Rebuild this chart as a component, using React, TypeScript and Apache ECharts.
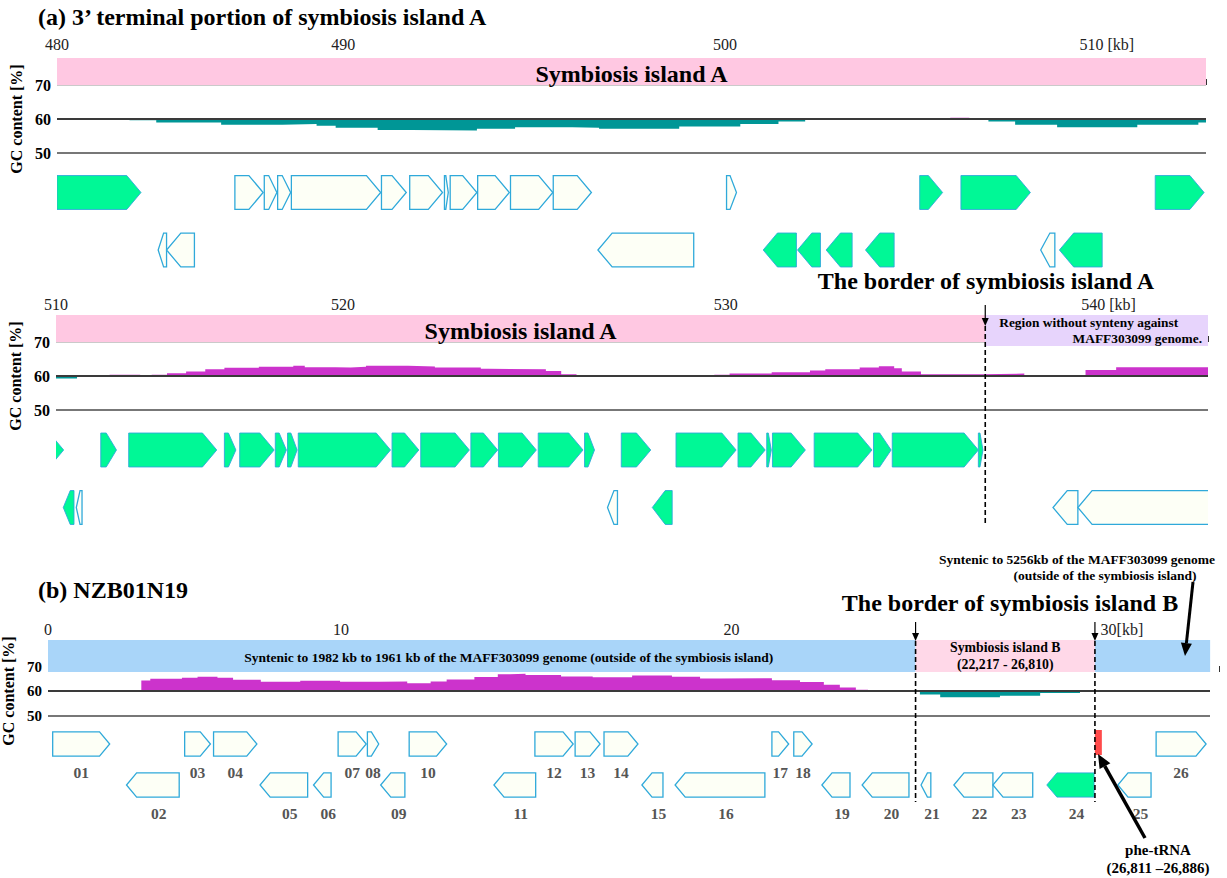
import { useEffect, useRef } from 'react';
import * as echarts from 'echarts';

const SERIF = '"Liberation Serif", "Times New Roman", Times, serif';
const W = 1227;

// ---------------- Panel (a), upper row: 480–510 kb ----------------
const ticksA1 = [480, 490, 500, 510];
const tickLabelsA1 = ['480', '490', '500', '510 [kb]'];
const gcKbA1 = [480, 480.1, 480.6, 481.2, 481.7, 481.9, 482.6, 484.3, 485.9, 486.8, 487.3, 488.4, 489.3, 491.0, 492.0, 493.5, 494.2, 496.3, 497.9, 498.9, 499.6, 500.7, 500.9, 501.7, 502.8, 503.4, 503.9, 504.4, 505.1, 506.2, 508.3, 509.9, 510.1];
const gcValA1 = [60, 60.2, 60, 60.2, 60, 59.6, 59.0, 58.3, 58.5, 58.0, 57.4, 56.8, 56.6, 57.1, 57.6, 57.4, 57.1, 57.8, 58.5, 59.3, 60, 60.2, 60, 60.3, 60, 60.4, 60, 59.3, 58.3, 57.6, 58.3, 59.0, 59.0];
// [start kb, end kb, conserved (1 = green)]
const genesFwdA1: [number, number, number][] = [
  [480.0, 482.2, 1], [484.66, 485.4, 0], [485.43, 485.76, 0], [485.78, 486.12, 0], [486.14, 488.48, 0],
  [488.5, 489.15, 0], [489.24, 490.1, 0], [490.15, 490.25, 0], [490.3, 491.0, 0], [491.02, 491.85, 0],
  [491.88, 492.99, 0], [493.0, 494.0, 0], [497.54, 497.8, 0], [502.6, 503.2, 1], [503.68, 505.5, 1], [508.77, 510.05, 1],
];
const genesRevA1: [number, number, number][] = [
  [482.65, 482.87, 0], [482.87, 483.6, 0], [494.17, 496.68, 0], [498.5, 499.37, 1], [499.4, 500.0, 1],
  [500.15, 500.83, 1], [501.18, 501.93, 1], [505.77, 506.14, 0], [506.26, 507.38, 1],
];
const regionsA1: [number, number, string][] = [[480, 510.1, 'islandA']];
const regionLabelsA1 = ['Symbiosis island A'];

// ---------------- Panel (a), lower row: 510–540 kb ----------------
const ticksA2 = [510, 520, 530, 540];
const tickLabelsA2 = ['510', '520', '530', '540 [kb]'];
const gcKbA2 = [510, 510.55, 511.4, 512.2, 512.5, 512.9, 513.4, 513.9, 514.4, 515.3, 516.2, 516.5, 517.3, 517.7, 518.1, 519.2, 519.9, 521.1, 521.3, 522.8, 523.2, 523.6, 525.35, 526.3, 527.2, 527.6, 528.7, 529.7, 530.1, 531.0, 531.5, 531.9, 532.1, 532.6, 534.2, 535.3, 536.9, 537.7, 540.1];
const gcValA2 = [59.3, 60, 60.4, 60, 60.4, 60.8, 61.3, 62.0, 62.4, 62.7, 63.0, 62.6, 62.5, 62.7, 63.0, 62.8, 62.5, 62.1, 62.0, 61.5, 60.5, 60, 59.7, 60, 60.4, 60.7, 61.1, 61.6, 62.0, 62.5, 62.9, 62.3, 61.3, 60.5, 60.7, 60, 61.8, 62.6, 62.6];
const genesFwdA2: [number, number, number][] = [
  [509.6, 510.2, 1], [511.17, 511.58, 1], [511.9, 514.2, 1], [514.4, 514.7, 1], [514.8, 515.7, 1],
  [515.73, 516.02, 1], [516.05, 516.3, 1], [516.33, 518.74, 1], [518.78, 519.48, 1], [519.53, 520.8, 1],
  [520.84, 521.54, 1], [521.56, 522.55, 1], [522.6, 523.77, 1], [523.81, 524.07, 1], [524.77, 525.54, 1],
  [526.2, 527.77, 1], [527.82, 528.53, 1], [528.57, 528.69, 1], [528.72, 529.58, 1], [529.81, 531.32, 1],
  [531.36, 531.82, 1], [531.85, 534.1, 1], [534.1, 534.22, 1],
];
const genesRevA2: [number, number, number][] = [
  [510.19, 510.47, 1], [510.53, 510.68, 0], [524.41, 524.67, 0], [525.58, 526.1, 1], [536.05, 536.7, 0], [536.7, 541.0, 0],
];
const bordersA2 = [534.28];
const regionsA2: [number, number, string][] = [[510, 534.28, 'islandA'], [534.28, 540.1, 'nosyn']];
const regionLabelsA2 = ['Symbiosis island A', 'Region without synteny against\nMAFF303099 genome.'];

// ---------------- Panel (b): NZB01N19, 0–30 kb ----------------
const ticksB = [0, 10, 20, 30];
const tickLabelsB = ['0', '10', '20', '30[kb]'];
const gcKbB = [0, 2.39, 2.62, 3.43, 3.83, 4.34, 4.74, 5.45, 6.46, 7.48, 8.49, 9.2, 9.8, 10.21, 10.92, 11.52, 11.83, 12.23, 13.14, 13.95, 14.96, 15.98, 16.7, 17.21, 18.54, 19.26, 19.87, 20.28, 20.69, 21.0, 22.03, 22.33, 22.85, 24.38, 25.41, 26.43, 27.05, 27.56, 27.66, 29.76];
const gcValB = [60, 64.3, 65.0, 65.4, 65.8, 65.4, 64.6, 63.8, 64.2, 63.8, 63.9, 63.2, 63.9, 64.7, 65.7, 66.8, 67.0, 66.5, 65.9, 65.6, 66.3, 65.8, 65.1, 65.2, 64.4, 63.7, 62.6, 61.4, 60.5, 60, 59.6, 58.6, 57.5, 58.1, 59.2, 59.6, 60, 60.3, 60, 60];
const genesFwdB: [number, number, number][] = [
  [0.12, 1.58, 0], [3.5, 4.16, 0], [4.24, 5.35, 0], [7.43, 8.15, 0], [8.18, 8.47, 0], [9.25, 10.21, 0],
  [12.47, 13.45, 0], [13.5, 14.14, 0], [14.24, 15.11, 0], [18.54, 18.97, 0], [19.1, 19.57, 0], [28.38, 29.66, 0],
];
const geneNamesFwdB = ['01', '03', '04', '07', '08', '10', '12', '13', '14', '17', '18', '26'];
const genesRevB: [number, number, number][] = [
  [2.01, 3.36, 0], [5.43, 6.65, 0], [6.8, 7.25, 0], [8.52, 9.14, 0], [11.42, 12.49, 0], [15.21, 15.75, 0],
  [16.06, 18.36, 0], [19.82, 20.54, 0], [20.85, 22.05, 0], [22.36, 22.61, 0], [23.2, 24.2, 0], [24.2, 25.22, 0],
  [25.58, 26.79, 1], [27.4, 28.25, 0],
];
const geneNamesRevB = ['02', '05', '06', '09', '11', '15', '16', '19', '20', '21', '22', '23', '24', '25'];
const tRNAB: [number, number][] = [[26.811, 26.886]];
const bordersB = [22.217, 26.81];
const regionsB: [number, number, string][] = [[0, 22.217, 'syn'], [22.217, 26.81, 'islandB'], [26.81, 29.76, 'syn']];
const regionLabelsB = [
  'Syntenic to 1982 kb to 1961 kb of the MAFF303099 genome (outside of the symbiosis island)',
  'Symbiosis island B\n(22,217 - 26,810)',
  '',
];

// ---------------- styles ----------------
const GREEN = '#00f896';
const WHITE = '#fdfff6';
const OUTLINE = '#2fa9da';
const MAGENTA = '#cc33cc';
const TEAL = '#009696';

const REGION_STYLE: Record<string, any> = {
  islandA: { fill: '#ffc8e2', extra: 0, font: `bold 24px ${SERIF}`, y0: 15.5, lh: 0, dx: 0, split: false },
  nosyn: { fill: '#e7d4fc', extra: 4, font: `bold 13.4px ${SERIF}`, y0: 7, lh: 16, dx: 0, split: true },
  syn: { fill: '#a9d5f9', extra: 0, font: `bold 13.5px ${SERIF}`, y0: 17, lh: 0, dx: 27, split: false },
  islandB: { fill: '#ffd8e8', extra: 0, font: `bold 13.8px ${SERIF}`, y0: 7.5, lh: 17, dx: 0, split: false },
};

type Panel = {
  min: number; max: number; bandMax: number; left: number; right: number; bandRight: number;
  bandTop: number; bandH: number; gcTop: number; gcH: number; geneTop: number; geneH: number;
  ticks: number[]; tickLabels: string[]; labelMargin: number; nameGap: number; yLabelPad: number; yLabelSize: number;
  gcKb: number[]; gcVal: number[]; fwd: [number, number, number][]; rev: [number, number, number][];
  fwdNames?: string[]; revNames?: string[]; regions: [number, number, string][]; regionLabels: string[];
  borders: number[]; borderOffsets: [number, number, number]; tRNA?: [number, number][];
};

const panels: Panel[] = [
  {
    min: 480, max: 510.1, bandMax: 510.1, left: 57, right: 21, bandRight: 21,
    bandTop: 58, bandH: 27, gcTop: 85, gcH: 68, geneTop: 163.75, geneH: 115,
    ticks: ticksA1, tickLabels: tickLabelsA1, labelMargin: 7, nameGap: 31, yLabelPad: 6, yLabelSize: 16,
    gcKb: gcKbA1, gcVal: gcValA1, fwd: genesFwdA1, rev: genesRevA1,
    regions: regionsA1, regionLabels: regionLabelsA1, borders: [], borderOffsets: [0, 0, 0],
  },
  {
    min: 510, max: 540.1, bandMax: 540.1, left: 56, right: 19, bandRight: 19,
    bandTop: 315, bandH: 27, gcTop: 342, gcH: 68, geneTop: 421.25, geneH: 115,
    ticks: ticksA2, tickLabels: tickLabelsA2, labelMargin: 4, nameGap: 31, yLabelPad: 6, yLabelSize: 16,
    gcKb: gcKbA2, gcVal: gcValA2, fwd: genesFwdA2, rev: genesRevA2,
    regions: regionsA2, regionLabels: regionLabelsA2, borders: bordersA2, borderOffsets: [-10, 11, 209],
  },
  {
    min: 0, max: 29.76, bandMax: 30, left: 48, right: 17, bandRight: 7.5,
    bandTop: 640, bandH: 32, gcTop: 666.5, gcH: 49, geneTop: 723.5, geneH: 82,
    ticks: ticksB, tickLabels: tickLabelsB, labelMargin: 4, nameGap: 21, yLabelPad: 4, yLabelSize: 15,
    gcKb: gcKbB, gcVal: gcValB, fwd: genesFwdB, rev: genesRevB, fwdNames: geneNamesFwdB, revNames: geneNamesRevB,
    regions: regionsB, regionLabels: regionLabelsB, borders: bordersB, borderOffsets: [-18, 1, 162], tRNA: tRNAB,
  },
];

function geneRender(names: string[] | null) {
  return (params: any, api: any) => {
    const s = api.value(0), e = api.value(1), row = api.value(2), filled = api.value(3);
    const a = api.coord([s, row]);
    const b = api.coord([e, row]);
    const bw = api.size([0, 1])[1];
    const h = bw * 0.59;
    const cy = a[1];
    const x0 = a[0], x1 = b[0];
    const len = x1 - x0;
    const head = Math.min(h * 0.42, len * 0.65);
    const t = cy - h / 2, bt = cy + h / 2;
    const pts = row === 0
      ? [[x0, t], [x1 - head, t], [x1, cy], [x1 - head, bt], [x0, bt]]
      : [[x1, t], [x0 + head, t], [x0, cy], [x0 + head, bt], [x1, bt]];
    const children: any[] = [{
      type: 'polygon', shape: { points: pts },
      style: { fill: filled ? GREEN : WHITE, stroke: OUTLINE, lineWidth: filled ? 0.9 : 1.3 },
    }];
    if (names) {
      children.push({
        type: 'text', x: (x0 + x1) / 2 + (row === 1 ? 6 : 0), y: cy + 28,
        style: { text: names[params.dataIndex], font: `bold 15.5px ${SERIF}`, fill: '#555', align: 'center', verticalAlign: 'middle' },
      });
    }
    return { type: 'group', children };
  };
}

function regionRender(p: Panel) {
  return (params: any, api: any) => {
    const i = params.dataIndex;
    const st = REGION_STYLE[p.regions[i][2]];
    const x0 = api.coord([api.value(0), 0])[0];
    const x1 = api.coord([api.value(1), 0])[0];
    const cs = params.coordSys;
    const children: any[] = [{
      type: 'rect', shape: { x: x0, y: cs.y, width: x1 - x0, height: cs.height + st.extra }, style: { fill: st.fill },
    }];
    const lbl = p.regionLabels[i];
    const lines = lbl ? lbl.split('\n') : [];
    lines.forEach((ln, j) => {
      let x = (x0 + x1) / 2 + st.dx;
      let align = 'center';
      if (st.split) {
        x = j === 0 ? x0 + 14 : x1 - 6;
        align = j === 0 ? 'left' : 'right';
      }
      children.push({
        type: 'text', x, y: cs.y + st.y0 + j * st.lh,
        style: { text: ln, font: st.font, fill: '#000', align, verticalAlign: 'middle' },
      });
    });
    return { type: 'group', children };
  };
}

function borderRender(p: Panel) {
  return (params: any, api: any) => {
    const x = api.coord([api.value(0), 0])[0];
    const cs = params.coordSys;
    const [tOff, aOff, bOff] = p.borderOffsets;
    const yT = cs.y + tOff, yA = cs.y + aOff, yB = cs.y + bOff;
    return {
      type: 'group',
      children: [
        { type: 'line', shape: { x1: x, y1: yT, x2: x, y2: yA - 5 }, style: { stroke: '#000', lineWidth: 1.2 } },
        { type: 'polygon', shape: { points: [[x - 3.5, yA - 8], [x + 3.5, yA - 8], [x, yA]] }, style: { fill: '#000' } },
        { type: 'line', shape: { x1: x, y1: yA, x2: x, y2: yB }, style: { stroke: '#000', lineWidth: 1.6, lineDash: [5, 3] } },
      ],
    };
  };
}

function tRNARender() {
  return (params: any, api: any) => {
    const a = api.coord([api.value(0), 0]);
    const b = api.coord([api.value(1), 0]);
    const w = Math.max(b[0] - a[0], 7);
    return { type: 'rect', shape: { x: a[0], y: a[1] - 14, width: w, height: 25 }, style: { fill: '#ff4a4a' } };
  };
}

function buildOption() {
  const grid: any[] = [];
  const xAxis: any[] = [];
  const yAxis: any[] = [];
  const series: any[] = [];

  panels.forEach((p) => {
    const gi = grid.length;
    const gcommon = { containLabel: false, outerBoundsMode: 'none' };
    grid.push({ ...gcommon, left: p.left, right: p.bandRight, top: p.bandTop, height: p.bandH });
    grid.push({ ...gcommon, left: p.left, right: p.right, top: p.gcTop, height: p.gcH });
    grid.push({ ...gcommon, left: p.left, right: p.right, top: p.geneTop, height: p.geneH });

    const bandW = W - p.left - p.bandRight;
    // the source figure prints each tick label (except the first) 2.5 kb left of its tick
    const shiftPx = (2.5 * bandW) / (p.bandMax - p.min);
    const baseRich = { fontFamily: SERIF, fontSize: 16, color: '#222', lineHeight: 14 };

    xAxis.push({
      gridIndex: gi, type: 'value', position: 'top', min: p.min, max: p.bandMax, interval: 10,
      axisLine: { show: false }, splitLine: { show: false },
      axisTick: { show: true, length: 6, lineStyle: { color: '#333', width: 1 } },
      axisLabel: {
        show: true, margin: p.labelMargin, fontFamily: SERIF, fontSize: 16, color: '#222',
        formatter: (v: number) => {
          const i = p.ticks.indexOf(v);
          if (i < 0) return '';
          return i === 0 ? `{f|${p.tickLabels[i]}}` : `{s|${p.tickLabels[i]}}`;
        },
        rich: { f: { ...baseRich }, s: { ...baseRich, padding: [0, shiftPx * 2, 0, 0] } },
      },
    });
    yAxis.push({ gridIndex: gi, type: 'value', min: 0, max: 1, show: false });

    xAxis.push({ gridIndex: gi + 1, type: 'value', min: p.min, max: p.max, show: false });
    yAxis.push({
      gridIndex: gi + 1, type: 'value', min: 50, max: 70, interval: 10,
      name: 'GC content [%]', nameLocation: 'middle', nameGap: p.nameGap, nameRotate: 90,
      nameTextStyle: { fontFamily: SERIF, fontWeight: 'bold', fontSize: 16, color: '#000' },
      axisLine: { show: false }, axisTick: { show: false },
      axisLabel: {
        fontFamily: SERIF, fontWeight: 'bold', fontSize: p.yLabelSize, color: '#000', margin: 6,
        padding: [p.yLabelPad, 0, 0, 0],
      },
      splitLine: { show: true, lineStyle: { color: ['#4a4a4a', 'rgba(0,0,0,0)', '#b8b8b8'], width: 1.6 } },
    });

    xAxis.push({ gridIndex: gi + 2, type: 'value', min: p.min, max: p.max, show: false });
    yAxis.push({ gridIndex: gi + 2, type: 'category', data: ['+', '-'], inverse: true, show: false });

    // regions band
    series.push({
      type: 'custom', name: 'regions', xAxisIndex: gi, yAxisIndex: gi, clip: false, z: 3, silent: true,
      data: p.regions.map((r) => [r[0], r[1]]), encode: { x: [0, 1] }, renderItem: regionRender(p),
    });

    // GC content
    const above = p.gcKb.map((k, i) => [k, Math.max(p.gcVal[i], 60)]);
    const below = p.gcKb.map((k, i) => [k, Math.min(p.gcVal[i], 60)]);
    series.push({
      type: 'line', name: 'GC above', xAxisIndex: gi + 1, yAxisIndex: gi + 1, data: above, step: 'end',
      symbol: 'none', silent: true, z: 2, lineStyle: { width: 0 },
      areaStyle: { color: MAGENTA, opacity: 1, origin: 60 },
    });
    series.push({
      type: 'line', name: 'GC below', xAxisIndex: gi + 1, yAxisIndex: gi + 1, data: below, step: 'end',
      symbol: 'none', silent: true, z: 2, lineStyle: { width: 0 },
      areaStyle: { color: TEAL, opacity: 1, origin: 60 },
      markLine: {
        silent: true, symbol: ['none', 'none'], label: { show: false },
        lineStyle: { color: '#3a3a3a', width: 2, type: 'solid' }, data: [{ yAxis: 60 }],
      },
    });

    // genes
    const genes = [
      ...p.fwd.map((g) => [g[0], g[1], 0, g[2]]),
      ...p.rev.map((g) => [g[0], g[1], 1, g[2]]),
    ];
    const names = p.fwdNames && p.revNames ? [...p.fwdNames, ...p.revNames] : null;
    series.push({
      type: 'custom', name: 'genes', xAxisIndex: gi + 2, yAxisIndex: gi + 2, clip: !names, z: 4, silent: true,
      data: genes, encode: { x: [0, 1], y: 2 }, renderItem: geneRender(names),
    });

    if (p.tRNA) {
      series.push({
        type: 'custom', name: 'phe-tRNA', xAxisIndex: gi + 2, yAxisIndex: gi + 2, clip: false, z: 5, silent: true,
        data: p.tRNA, encode: { x: [0, 1] }, renderItem: tRNARender(),
      });
    }
    if (p.borders.length) {
      series.push({
        type: 'custom', name: 'border', xAxisIndex: gi, yAxisIndex: gi, clip: false, z: 6, silent: true,
        data: p.borders.map((b) => [b]), encode: { x: 0 }, renderItem: borderRender(p),
      });
    }
  });

  const txt = (text: string, x: number, y: number, size: number, align = 'left') => ({
    type: 'text', x, y, z: 10,
    style: { text, font: `bold ${size}px ${SERIF}`, fill: '#000', align, verticalAlign: 'middle' },
  });

  const graphic: any[] = [
    txt('(a) 3\u2019 terminal portion of symbiosis island A', 38, 17, 24),
    txt('The border of symbiosis island A', 986, 281, 24, 'center'),
    txt('(b) NZB01N19', 38, 590, 24),
    txt('The border of symbiosis island B', 1010, 603, 24, 'center'),
    txt('Syntenic to 5256kb of the MAFF303099 genome', 1215, 559, 13.5, 'right'),
    txt('(outside of the symbiosis island)', 1105, 575, 13.5, 'center'),
    txt('phe-tRNA', 1158, 850, 15, 'center'),
    txt('(26,811 \u201326,886)', 1158, 868, 15, 'center'),
    { type: 'polyline', z: 10, shape: { points: [[1193, 582], [1186.4, 643.1]] }, style: { stroke: '#000', lineWidth: 3, fill: 'none' } },
    { type: 'polygon', z: 10, shape: { points: [[1191.9, 643.7], [1180.9, 642.5], [1185, 656]] }, style: { fill: '#000' } },
    { type: 'polyline', z: 10, shape: { points: [[1145, 838], [1104.8, 766.2]] }, style: { stroke: '#000', lineWidth: 3.5, fill: 'none' } },
    { type: 'polygon', z: 10, shape: { points: [[1110.4, 763.3], [1099.6, 769.1], [1098, 754]] }, style: { fill: '#000' } },
  ];

  return {
    animation: false,
    backgroundColor: '#ffffff',
    textStyle: { fontFamily: SERIF },
    grid, xAxis, yAxis, series, graphic,
  };
}

export default function App() {
  const ref = useRef<HTMLDivElement>(null);
  useEffect(() => {
    if (!ref.current) return;
    const chart = echarts.init(ref.current, null, { renderer: 'svg' });
    chart.setOption(buildOption() as any);
    return () => chart.dispose();
  }, []);
  return (
    <div
      ref={ref}
      style={{ position: 'fixed', left: 0, top: 0, width: W, height: 878, background: '#fff' }}
    />
  );
}
